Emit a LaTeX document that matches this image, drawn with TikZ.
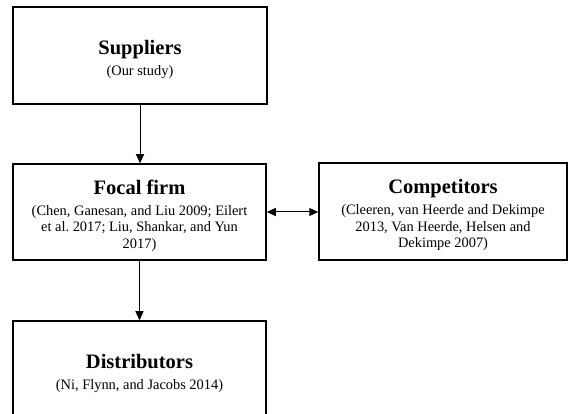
\documentclass[tikz,border=0pt]{standalone}
\usepackage{fontspec}
\setmainfont{Liberation Serif}
\usetikzlibrary{positioning, arrows.meta}
\newcommand{\headfont}{\fontsize{20.5}{24}\selectfont\bfseries}
\newcommand{\bodyfont}{\fontsize{14.4}{16.6}\selectfont}
\tikzset{
    boxnode/.style={
        draw, line width=1.5pt, minimum height=97pt, inner sep=0pt, anchor=center
    },
    boxtext/.style={
        align=center, inner sep=0pt, font=\bodyfont
    },
    flow/.style={
        line width=1pt, -{Triangle[length=9pt,width=8pt]}
    },
    twoway/.style={
        line width=1pt, {Triangle[length=9pt,width=8pt]}-{Triangle[length=9pt,width=8pt]}
    }
}
\begin{document}
\begin{tikzpicture}[x=1pt, y=-1pt]
    \clip (0,0) rectangle (568,414);
    \fill[white] (0,0) rectangle (568,414);
    % --- boxes ---
    \node[boxnode, minimum width=254pt] (suppliers) at (140,55.5) {};
    \node[boxnode, minimum width=253pt, minimum height=96pt] (focal) at (139.5,212) {};
    \node[boxnode, minimum width=248pt] (competitors) at (443,211.5) {};
    \node[boxnode, minimum width=253pt] (distributors) at (139.5,369.5) {};
    % --- texts ---
    \node[boxtext] (supplierstext) at ([yshift=-3.5pt]suppliers.center)
        {{\headfont Suppliers}\\[4.4pt](Our study)};
    \node[boxtext] (focaltext) at ([yshift=-3.5pt]focal.center)
        {{\headfont Focal firm}\\[4.4pt](Chen, Ganesan, and Liu 2009; Eilert\\et al.\ 2017; Liu, Shankar, and Yun\\2017)};
    \node[boxtext] (competitorstext) at ([yshift=-3.5pt]competitors.center)
        {{\headfont Competitors}\\[4.4pt](Cleeren, van Heerde and Dekimpe\\2013, Van Heerde, Helsen and\\Dekimpe 2007)};
    \node[boxtext] (distributorstext) at ([yshift=-3.5pt]distributors.center)
        {{\headfont Distributors}\\[4.4pt](Ni, Flynn, and Jacobs 2014)};
    % --- arrows ---
    \draw[flow] (suppliers.south) -- (suppliers.south |- focal.north);
    \draw[flow] (focal.south) -- (distributors.north);
    \draw[twoway] (focal.east) -- (competitors.west |- focal.east);
\end{tikzpicture}
\end{document}
